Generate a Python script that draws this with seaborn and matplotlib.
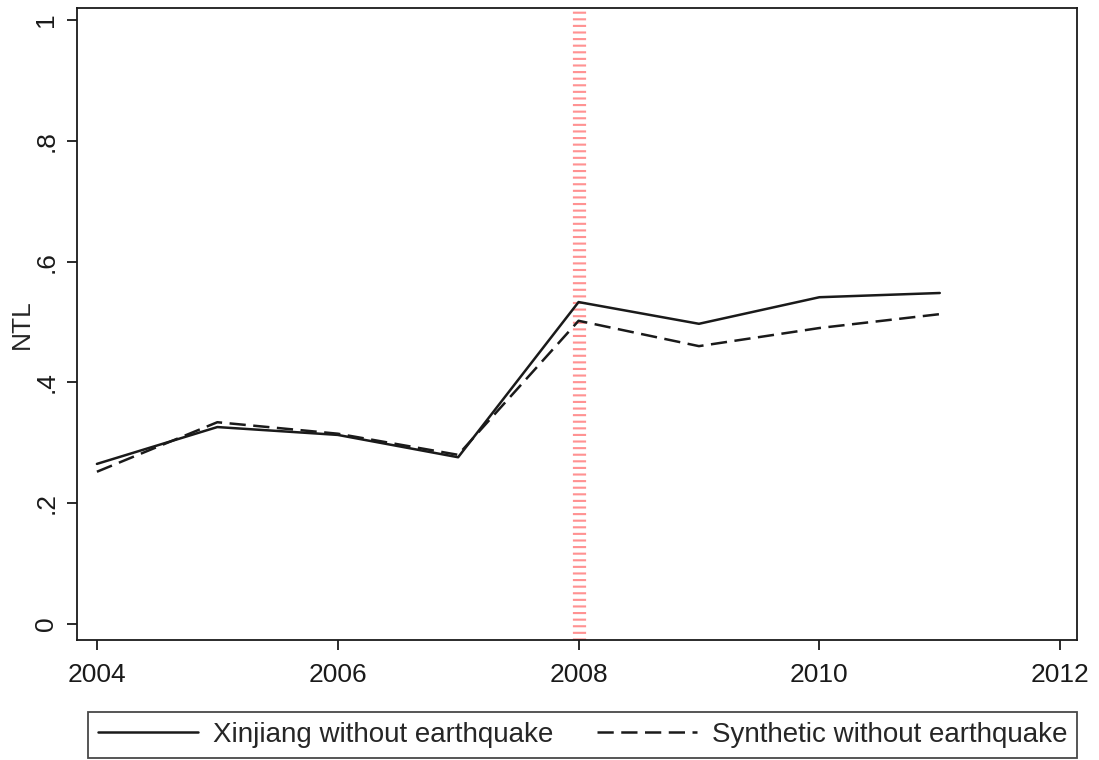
import pandas as pd
import matplotlib
matplotlib.use("Agg")
import matplotlib.pyplot as plt
import seaborn as sns

# -----------------------------
# Data
# -----------------------------

years = [2004, 2005, 2006, 2007, 2008, 2009, 2010, 2011]
xinjiang = [0.265, 0.326, 0.313, 0.276, 0.533, 0.497, 0.541, 0.548]
synthetic = [0.252, 0.334, 0.315, 0.280, 0.502, 0.460, 0.490, 0.513]
series_names = ["Xinjiang without earthquake", "Synthetic without earthquake"]
x_ticks = [2004, 2006, 2008, 2010, 2012]
y_ticks = [0, 0.2, 0.4, 0.6, 0.8, 1.0]
y_tick_labels = ["0", ".2", ".4", ".6", ".8", "1"]
event_year = 2008

df = pd.DataFrame({
    "Year": years * 2,
    "NTL": xinjiang + synthetic,
    "Series": [series_names[0]] * len(years) + [series_names[1]] * len(years),
})

dash_style = (6.5, 3)

# -----------------------------
# Plot
# -----------------------------

sns.set_style("ticks")
plt.rcParams["font.family"] = ["Liberation Sans", "DejaVu Sans"]

fig = plt.figure(figsize=(10.99, 7.6), dpi=100)
ax = fig.add_axes([0.070, 0.158, 0.910, 0.8315])

sns.lineplot(
    data=df,
    x="Year",
    y="NTL",
    style="Series",
    style_order=series_names,
    dashes={series_names[0]: "", series_names[1]: dash_style},
    color="#1a1a1a",
    linewidth=1.8,
    legend=False,
    ax=ax,
)

ax.axvline(
    event_year,
    color="#ff6e6e",
    alpha=0.75,
    linewidth=9.5,
    dashes=(0.16, 0.34),
    zorder=1,
)

ax.set_xlim(2003.834, 2012.14)
ax.set_ylim(-0.0265, 1.02)
ax.set_xticks(x_ticks)
ax.set_yticks(y_ticks)
ax.set_yticklabels(y_tick_labels, rotation=90, va="center")
ax.tick_params(labelsize=19, length=7.5, width=1.3, colors="#1a1a1a")
ax.tick_params(axis="x", pad=9)
ax.tick_params(axis="y", pad=6)
ax.set_xlabel("")
ax.set_ylabel("NTL", fontsize=19, labelpad=0)

for spine in ax.spines.values():
    spine.set_visible(True)
    spine.set_linewidth(1.3)
    spine.set_color("#1a1a1a")

handles = [
    plt.Line2D([], [], color="#1a1a1a", linewidth=1.8),
    plt.Line2D([], [], color="#1a1a1a", linewidth=1.8, dashes=dash_style),
]

leg = fig.legend(
    handles,
    series_names,
    loc="lower left",
    bbox_to_anchor=(0.080, 0.003, 0.900, 0.067),
    mode="expand",
    ncol=2,
    fontsize=20,
    frameon=True,
    fancybox=False,
    handlelength=3.6,
    handletextpad=0.55,
    borderpad=0.35,
    borderaxespad=0,
)
leg.get_frame().set_edgecolor("#1a1a1a")
leg.get_frame().set_linewidth(1.3)

fig.savefig("out.png", dpi=100)
